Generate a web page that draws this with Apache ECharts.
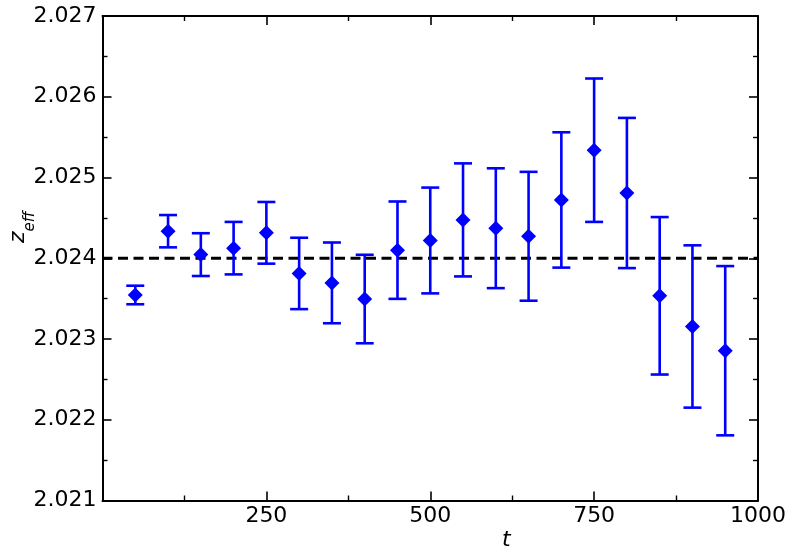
<!DOCTYPE html>
<html>
<head>
<meta charset="utf-8">
<script src="https://cdn.jsdelivr.net/npm/echarts@6/dist/echarts.min.js"></script>
<style>html,body{margin:0;padding:0;background:#fff}#c{width:790px;height:558px}</style>
</head>
<body>
<div id="c"></div>
<script>
const tValues = [50,100,150,200,250,300,350,400,450,500,550,600,650,700,750,800,850,900,950];
const zValues = [2.023545,2.024335,2.024045,2.024125,2.024315,2.023812,2.023695,2.023495,2.024100,2.024220,2.024475,2.024372,2.024272,2.024722,2.025338,2.024808,2.023535,2.023155,2.022855];
const zErrors = [0.000115,0.000200,0.000265,0.000325,0.000382,0.000442,0.000500,0.000548,0.000603,0.000655,0.000700,0.000742,0.000798,0.000838,0.000888,0.000930,0.000975,0.001005,0.001048];
const referenceZ = 2.024;
const xTicks = [250,500,750,1000];
const yTicks = ['2.021','2.022','2.023','2.024','2.025','2.026','2.027'];

const FONT = 'DejaVu Sans';
const chart = echarts.init(document.getElementById('c'), null, {renderer:'canvas'});

const errData = tValues.map((t,i)=>[t, zValues[i], zValues[i]-zErrors[i], zValues[i]+zErrors[i]]);
const pts = tValues.map((t,i)=>[t, zValues[i]]);

function xAxisCfg(pos, showLabels){
  return {
    type:'value', position:pos, min:0, max:1000, interval:250,
    axisLine:{show:true, onZero:false, lineStyle:{color:'#000', width:2}},
    axisTick:{show:true, inside:true, length:9, lineStyle:{color:'#000', width:1.6}},
    minorTick:{show:true, splitNumber:2, length:5, lineStyle:{color:'#000', width:1.4}},
    splitLine:{show:false},
    axisLabel:{show:showLabels, showMinLabel:false, color:'#000', fontFamily:FONT, fontSize:22, margin:5,
      formatter:v=> xTicks.includes(v) ? String(v) : ''}
  };
}
function yAxisCfg(pos, showLabels){
  return {
    type:'value', position:pos, min:2.021, max:2.027, interval:0.001,
    axisLine:{show:true, onZero:false, lineStyle:{color:'#000', width:2}},
    axisTick:{show:true, inside:true, length:9, lineStyle:{color:'#000', width:1.6}},
    minorTick:{show:true, splitNumber:2, length:5, lineStyle:{color:'#000', width:1.4}},
    splitLine:{show:false},
    axisLabel:{show:showLabels, color:'#000', fontFamily:FONT, fontSize:22, margin:6,
      formatter:v=>{const s=v.toFixed(3); return yTicks.includes(s)?s:'';}}
  };
}

const yLeft = yAxisCfg('left', true);
yLeft.name = '{z|z}{s|eff}';
yLeft.nameLocation = 'middle';
yLeft.nameGap = 73;
yLeft.nameMoveOverlap = false;
yLeft.nameRotate = 90;
yLeft.nameTextStyle = {color:'#000', fontFamily:FONT, rich:{
  z:{fontSize:22, fontStyle:'italic', fontFamily:FONT, color:'#000', verticalAlign:'bottom', lineHeight:26},
  s:{fontSize:15, fontStyle:'italic', fontFamily:FONT, color:'#000', verticalAlign:'bottom', lineHeight:26, padding:[0,0,-8,0]}
}, padding:[0,0,0,62]};

chart.setOption({
  animation:false,
  backgroundColor:'#fff',
  grid:{left:102.5, right:32, top:16, bottom:57.5, containLabel:false, outerBoundsMode:'none'},
  xAxis:[xAxisCfg('bottom', true), xAxisCfg('top', false)],
  yAxis:[yLeft, yAxisCfg('right', false)],
  graphic:[{type:'text', left:502, top:529, style:{text:'t', fontFamily:FONT, fontSize:22, fontStyle:'italic', fill:'#000'}}],
  series:[
    {
      type:'line', data:[[0,referenceZ],[1000,referenceZ]], symbol:'none', silent:true,
      lineStyle:{color:'#000', width:3.2, type:[10,5.5]}, z:1
    },
    {
      type:'custom', data:errData, z:2,
      renderItem:(params, api)=>{
        const x = api.value(0);
        const lo = api.coord([x, api.value(2)]);
        const hi = api.coord([x, api.value(3)]);
        const hw = 9;
        const st = {stroke:'#0000ff', lineWidth:2.6};
        return {type:'group', children:[
          {type:'line', shape:{x1:lo[0], y1:lo[1], x2:hi[0], y2:hi[1]}, style:st},
          {type:'line', shape:{x1:lo[0]-hw, y1:lo[1], x2:lo[0]+hw, y2:lo[1]}, style:st},
          {type:'line', shape:{x1:hi[0]-hw, y1:hi[1], x2:hi[0]+hw, y2:hi[1]}, style:st}
        ]};
      }
    },
    {
      type:'scatter', data:pts, symbol:'diamond', symbolSize:[15,15], z:3,
      itemStyle:{color:'#0000ff', opacity:1}
    }
  ]
});
</script>
</body>
</html>
